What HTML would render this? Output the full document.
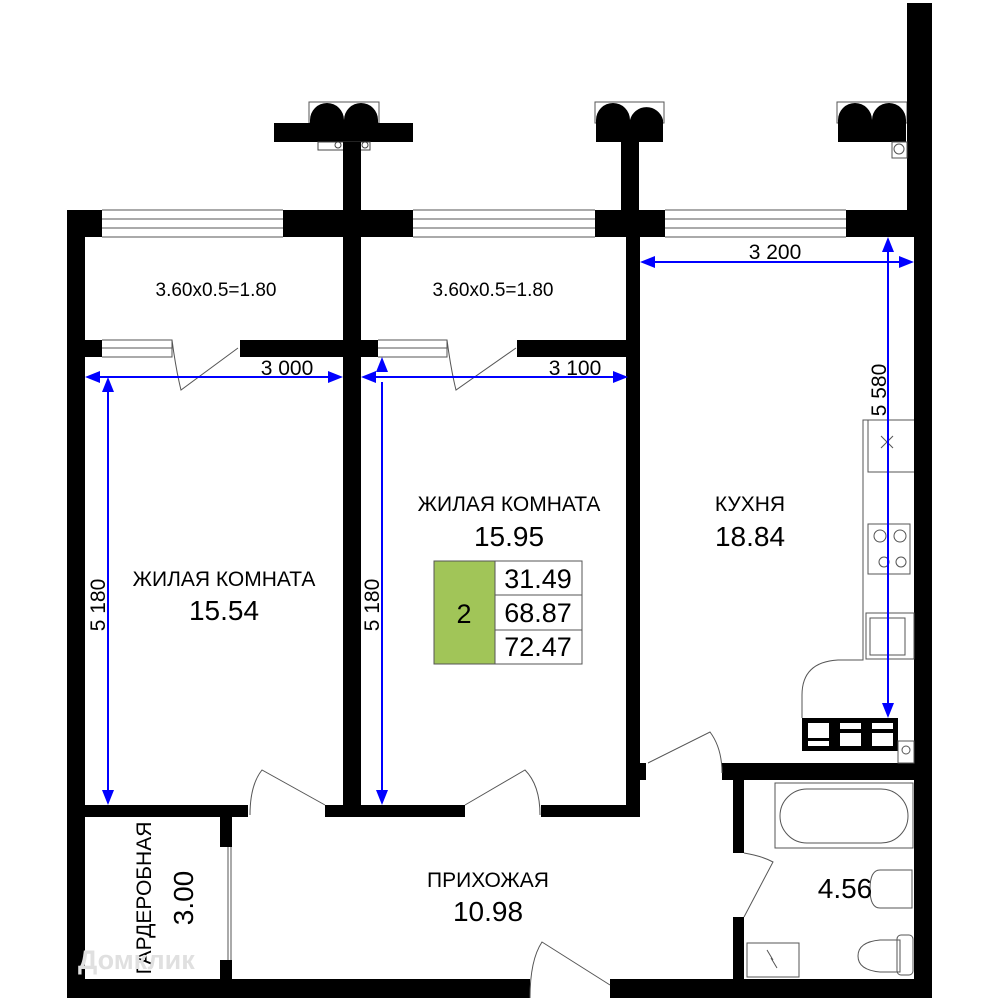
<!DOCTYPE html>
<html><head><meta charset="utf-8"><style>html,body{margin:0;padding:0;background:#fff}svg{display:block}</style></head>
<body>
<svg width="1000" height="1000" viewBox="0 0 1000 1000" xmlns="http://www.w3.org/2000/svg" font-family="Liberation Sans, sans-serif">
<rect width="1000" height="1000" fill="#fff"/>
<g fill="none" stroke="#555" stroke-width="1">
<rect x="309" y="102" width="70" height="21"/><rect x="595" y="102" width="69" height="21"/><rect x="837" y="102" width="70" height="21"/>
</g>
<g fill="#000">
<!-- top balcony separators -->
<rect x="274" y="123" width="139" height="19"/>
<rect x="343" y="123" width="18" height="100"/>
<path d="M310 123V120A17 17 0 0 1 344 120A17 17 0 0 1 378 120V123Z"/>
<path d="M596 142V120A17 17 0 0 1 630 120A17 17 0 0 1 663 120V142Z"/>
<rect x="621" y="140" width="18" height="90"/>
<path d="M838 142V120A17 17 0 0 1 872 120A17 17 0 0 1 906 120V142Z"/>
<rect x="907" y="3" width="25" height="234"/>
<!-- outer walls -->
<rect x="67" y="210" width="35" height="27"/>
<rect x="283" y="210" width="130" height="27"/>
<rect x="595" y="210" width="70" height="27"/>
<rect x="846" y="210" width="86" height="27"/>
<rect x="67" y="210" width="18" height="788"/>
<rect x="914" y="210" width="18" height="788"/>
<rect x="67" y="979" width="463" height="19"/>
<rect x="610" y="979" width="322" height="19"/>
<rect x="343" y="210" width="18" height="606"/>
<rect x="626" y="210" width="14" height="606"/>
<rect x="67" y="340" width="35" height="17"/>
<rect x="240" y="340" width="121" height="17"/>
<rect x="343" y="340" width="35" height="17"/>
<rect x="517" y="340" width="123" height="17"/>
<rect x="67" y="805" width="181" height="12"/>
<rect x="325" y="805" width="140" height="12"/>
<rect x="541" y="805" width="99" height="12"/>
<rect x="220" y="815" width="12" height="32"/>
<rect x="220" y="960" width="12" height="22"/>
<rect x="626" y="763" width="20" height="17"/>
<rect x="722" y="763" width="210" height="17"/>
<rect x="733" y="763" width="11" height="90"/>
<rect x="733" y="917" width="11" height="70"/>
<rect x="802" y="718" width="96" height="33"/>
</g>
<g fill="#fff" stroke="#444">
<rect x="808" y="723" width="21" height="15" stroke="none"/><rect x="808" y="741" width="21" height="5" stroke="none"/>
<rect x="840" y="723" width="21" height="6" stroke="none"/><rect x="840" y="733" width="21" height="13" stroke="none"/>
<rect x="872" y="723" width="21" height="6" stroke="none"/><rect x="872" y="733" width="21" height="13" stroke="none"/>
<rect x="318" y="142" width="52" height="8"/>
<circle cx="338" cy="145" r="3"/><circle cx="365" cy="145" r="3"/>
</g>
<rect x="343" y="142" width="18" height="10"/>
<g fill="none" stroke="#555" stroke-width="1">
<rect x="892" y="142" width="15" height="16"/><circle cx="899" cy="149" r="5"/>
<path d="M102 210H283M102 219H283M102 228H283M102 237H283"/>
<path d="M413 210H595M413 219H595M413 228H595M413 237H595"/>
<path d="M665 210H846M665 219H846M665 228H846M665 237H846"/>
<path d="M102 340H172V357H102M102 348H172M378 340H447V357H378M378 348H447"/>
<path d="M172 340Q176 370 181 390L238 348M447 340Q451 370 456 390L516 348"/>
<path d="M250 815Q250 785 262 770L325 805M465 805L525 770Q540 785 540 815"/>
<path d="M648 763L710 732Q722 748 722 773"/>
<path d="M744 853Q762 856 773 862L744 917"/>
<path d="M530 998Q530 960 542 942L610 985"/>
<path d="M228 847V960M231 847V960"/>
<path d="M914 420H863V660H838Q802 662 802 695V718"/>
<path d="M868 420V472H914"/>
<path d="M881 436L893 448M893 436L881 448"/>
<rect x="868" y="524" width="42" height="50"/>
<circle cx="880" cy="536" r="6"/><circle cx="900" cy="536" r="6"/><circle cx="884" cy="562" r="5"/><circle cx="901" cy="562" r="5"/>
<rect x="866" y="613" width="48" height="46"/><rect x="870" y="618" width="35" height="37"/>
<circle cx="906" cy="750" r="4"/><rect x="898" y="741" width="16" height="22"/>
<rect x="775" y="783" width="138" height="65"/>
<rect x="780" y="789" width="128" height="54" rx="27"/>
<path d="M880 870H912V908H880Q870 908 870 889Q870 870 880 870Z"/>
<path d="M858 956Q858 942 880 940H900V972H880Q858 970 858 956Z"/>
<rect x="897" y="935" width="16" height="40" rx="4"/>
<rect x="747" y="943" width="52" height="34"/>
<path d="M767 950L773 960L771 958L777 968"/>
</g>
<rect x="434" y="561" width="61" height="103" fill="#a1c558" stroke="#555"/>
<g fill="#fff" stroke="#555"><rect x="495" y="561" width="87" height="34"/><rect x="495" y="595" width="87" height="35"/><rect x="495" y="630" width="87" height="34"/></g>
<g font-size="27" text-anchor="middle" fill="#000">
<text x="464" y="623">2</text>
<text x="538" y="588">31.49</text><text x="538" y="622">68.87</text><text x="538" y="656">72.47</text>
</g>
<g stroke="#0000ff" stroke-width="2" fill="none">
<path d="M90 377H340M366 377H623M645 262H910M108 382V800M382 382V800M888 242V714"/>
</g>
<g fill="#0000ff">
<path d="M85 377L100 371V383Z M343 377L328 371V383Z M361 377L376 371V383Z M628 377L613 371V383Z M640 262L655 256V268Z M914 262L899 256V268Z"/>
<path d="M108 377L102 392H114Z M108 805L102 790H114Z M382 357L376 372H388Z M382 805L376 790H388Z M888 237L882 252H894Z M888 718L882 703H894Z"/>
</g>
<g font-size="21" fill="#000" text-anchor="middle">
<text x="287" y="375">3 000</text><text x="575" y="375">3 100</text><text x="775" y="259">3 200</text>
<text transform="translate(105,605) rotate(-90)">5 180</text>
<text transform="translate(379,605) rotate(-90)">5 180</text>
<text transform="translate(886,390) rotate(-90)">5 580</text>
</g>
<g font-size="19" fill="#000" text-anchor="middle">
<text x="216" y="296">3.60x0.5=1.80</text><text x="493" y="296">3.60x0.5=1.80</text>
</g>
<g font-size="21" fill="#000" text-anchor="middle">
<text x="224" y="586">ЖИЛАЯ КОМНАТА</text><text x="509" y="511">ЖИЛАЯ КОМНАТА</text>
<text x="750" y="511">КУХНЯ</text><text x="488" y="887">ПРИХОЖАЯ</text>
</g>
<g font-size="28" fill="#000" text-anchor="middle">
<text x="224" y="620">15.54</text><text x="509" y="546">15.95</text><text x="750" y="546">18.84</text>
<text x="488" y="921">10.98</text><text x="845" y="898">4.56</text>
</g>
<text transform="translate(151,898) rotate(-90)" font-size="21" text-anchor="middle">ГАРДЕРОБНАЯ</text>
<text transform="translate(193,898) rotate(-90)" font-size="28" text-anchor="middle">3.00</text>
<text x="78" y="969" font-size="27" fill="#e0e0e0" font-weight="bold">Домклик</text>
</svg>
</body></html>
